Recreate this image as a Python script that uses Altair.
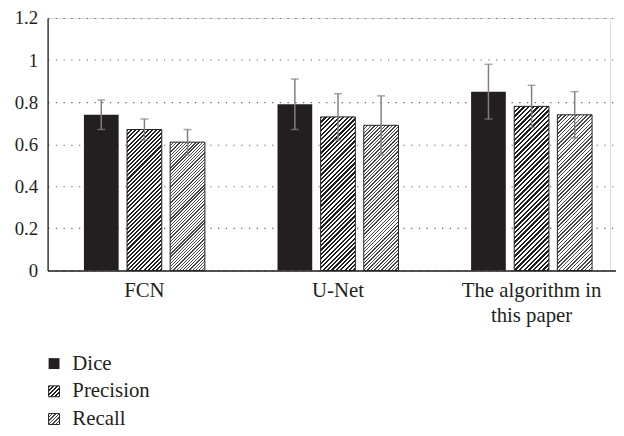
import altair as alt
import pandas as pd

# ---------------- data ----------------
methods = ["FCN", "U-Net", "The algorithm in this paper"]
series = ["Dice", "Precision", "Recall"]
dice = [0.74, 0.79, 0.85]
dice_lo = [0.67, 0.67, 0.72]
dice_hi = [0.81, 0.91, 0.98]
precision = [0.67, 0.73, 0.78]
precision_lo = [0.62, 0.62, 0.68]
precision_hi = [0.72, 0.84, 0.88]
recall = [0.61, 0.69, 0.74]
recall_lo = [0.55, 0.55, 0.63]
recall_hi = [0.67, 0.83, 0.85]
y_ticks = [0, 0.2, 0.4, 0.6, 0.8, 1.0, 1.2]

rows = []
for s, vals, los, his in [("Dice", dice, dice_lo, dice_hi),
                          ("Precision", precision, precision_lo, precision_hi),
                          ("Recall", recall, recall_lo, recall_hi)]:
    for m, v, lo, hi in zip(methods, vals, los, his):
        rows.append({"method": m, "series": s, "value": v, "lo": lo, "hi": hi})
df = pd.DataFrame(rows)
legend_df = pd.DataFrame({"series": series})

# ---------------- layout / style ----------------
W, H = 568, 255
Y_MAX = 1.2
X_RANGE = 586.5
PI, PO = 0.195, 0.842
FONT = "Liberation Serif"
INK = "#231f20"

band = X_RANGE / len(methods)
sub_step = band / (len(series) - PI + 2 * PO)
BAR_W = sub_step * (1 - PI)

LUT = 256.0


def hatch(w, h, period_cells, dark_cells, dark=INK, light="white"):
    """Diagonal '/' hatching as a hard-stop linear gradient whose stops sit
    on a 1/256 grid (keeps the rasterised stripes regular)."""
    k = (w + h) / (w * w + h * h)
    stops = []
    j = 0
    while j < LUT:
        a = j / LUT
        b = min((j + dark_cells) / LUT, 1.0)
        c = min((j + period_cells) / LUT, 1.0)
        stops += [{"offset": round(a, 6), "color": dark},
                  {"offset": round(b, 6), "color": dark},
                  {"offset": round(b, 6), "color": light},
                  {"offset": round(c, 6), "color": light}]
        j += period_cells
    return {"gradient": "linear", "x1": 0, "y1": 0,
            "x2": k * w, "y2": k * h, "stops": stops}


HATCH = {"Precision": (6, 3, INK), "Recall": (5, 2, "#4a4647")}

label_expr = ("datum.value == 'The algorithm in this paper' ? "
              "['The algorithm in', 'this paper'] : datum.label")

x_enc = alt.X("method:N", sort=methods, title=None,
              scale=alt.Scale(domain=methods, range=[0, X_RANGE],
                              paddingInner=0, paddingOuter=0),
              axis=alt.Axis(labelExpr=label_expr, labelAngle=0, ticks=False,
                            labelFontSize=21, labelPadding=9, labelLineHeight=26,
                            labelFont=FONT, labelColor=INK, domainColor=INK,
                            domainWidth=1.3, grid=False, labelLimit=300))
xo_enc = alt.XOffset("series:N", sort=series,
                     scale=alt.Scale(domain=series, paddingInner=PI, paddingOuter=PO))


def y_enc(field):
    return alt.Y(f"{field}:Q", title=None,
                 scale=alt.Scale(domain=[0, Y_MAX], nice=False),
                 axis=alt.Axis(values=y_ticks, format="~g", ticks=False,
                               labelFontSize=19, labelPadding=10, labelFont=FONT,
                               labelColor=INK, domainColor=INK, domainWidth=1.3,
                               grid=True, gridDash=[1.3, 6.5], gridColor="#666666",
                               gridWidth=1.1))


base = alt.Chart(df)

layers = [
    base.mark_bar(fill=INK, strokeWidth=0)
    .encode(x=x_enc, xOffset=xo_enc, y=y_enc("value"))
    .transform_filter(alt.datum.series == "Dice")
]
for s in ["Precision", "Recall"]:
    pc, dc, col = HATCH[s]
    for m, v in zip(methods, df[df.series == s].value):
        h = v / Y_MAX * H
        layers.append(
            base.mark_bar(fill=hatch(BAR_W, h, pc, dc, dark=col), stroke=INK,
                          strokeWidth=1)
            .encode(x=x_enc, xOffset=xo_enc, y=y_enc("value"))
            .transform_filter((alt.datum.series == s) & (alt.datum.method == m))
        )

ERR = "#808080"
layers.append(base.mark_rule(color=ERR, strokeWidth=1.5)
              .encode(x=x_enc, xOffset=xo_enc, y=y_enc("lo"), y2="hi:Q"))
layers.append(base.mark_tick(color=ERR, size=8, thickness=1.5)
              .encode(x=x_enc, xOffset=xo_enc, y=y_enc("hi")))
layers.append(base.mark_tick(color=ERR, size=8, thickness=1.5)
              .encode(x=x_enc, xOffset=xo_enc, y=y_enc("lo")))

main = alt.layer(*layers)

# ---------------- legend ----------------
leg_y = alt.Y("series:N", sort=series, title=None, axis=None,
              scale=alt.Scale(type="point", domain=series, range=[349, 405], padding=0))
lbase = alt.Chart(legend_df)
SQ = 121
leg_layers = [
    lbase.mark_square(size=SQ, fill=INK, opacity=1, strokeWidth=0)
    .encode(x=alt.value(6.5), y=leg_y)
    .transform_filter(alt.datum.series == "Dice")
]
for s in ["Precision", "Recall"]:
    pc, dc, col = HATCH[s]
    leg_layers.append(
        lbase.mark_square(size=SQ, fill=hatch(11, 11, pc * 8, dc * 8, dark=col),
                          stroke=INK, strokeWidth=1, opacity=1)
        .encode(x=alt.value(6.5), y=leg_y)
        .transform_filter(alt.datum.series == s)
    )
leg_layers.append(
    lbase.mark_text(align="left", baseline="middle", fontSize=21, font=FONT, color=INK)
    .encode(x=alt.value(25), y=leg_y, text="series:N")
)
legend = alt.layer(*leg_layers)

chart = (
    alt.layer(main, legend)
    .resolve_scale(y="independent")
    .properties(width=W, height=H,
                padding={"left": 40, "top": 8, "right": 6, "bottom": 161},
                autosize=alt.AutoSizeParams(type="none"))
    .configure_view(stroke=None)
    .configure(background="white", font=FONT)
)

chart.save("out.html", embed_options={"renderer": "svg", "actions": False})
